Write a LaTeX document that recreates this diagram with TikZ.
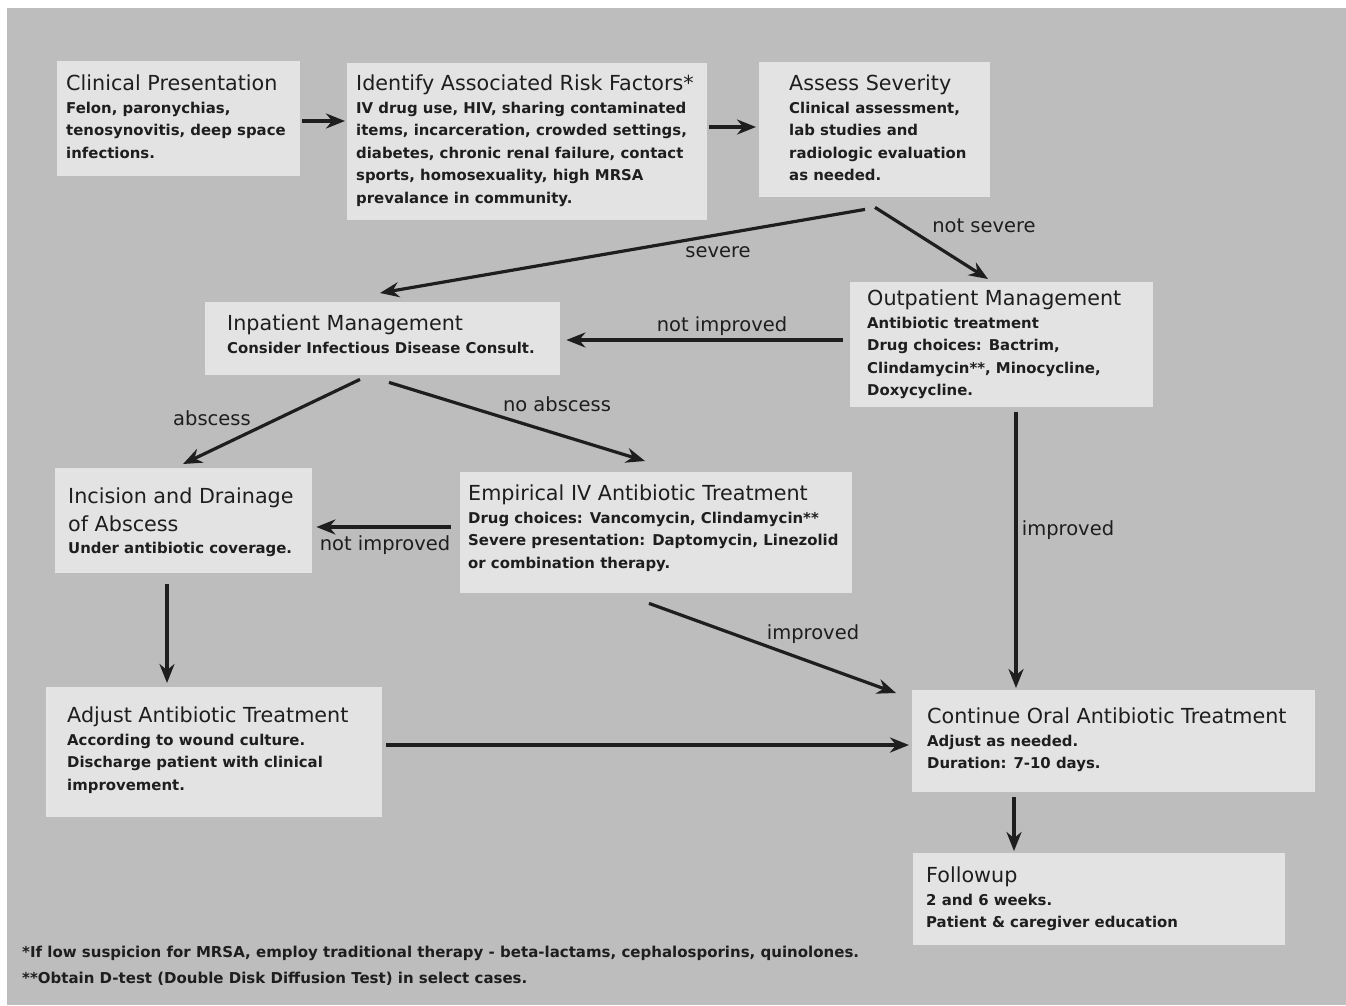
\documentclass[tikz,border=0pt]{standalone}
\usepackage{fontspec}
\setmainfont{DejaVu Sans}
\usetikzlibrary{calc,arrows.meta}
\definecolor{bggray}{HTML}{BDBDBD}
\definecolor{boxgray}{HTML}{E3E3E3}
\definecolor{ink}{HTML}{1E1E1E}
\newcommand\ttl[1]{{\fontsize{20.7}{22.5}\selectfont\mdseries #1}}
\begin{document}
\begin{tikzpicture}[x=1pt,y=-1pt,
  box/.style={fill=boxgray, draw=none, anchor=north west, inner sep=0pt},
  txt/.style={anchor=north west, inner sep=0pt, align=left, text=ink, font=\fontsize{14.9}{22.5}\selectfont\bfseries},
  lbl/.style={text=ink, font=\fontsize{19.5}{22}\selectfont, inner sep=0pt},
  arr/.style={draw=ink, line width=3.2pt, -{Stealth[length=19pt,width=15pt]}},
  note/.style={anchor=west, inner sep=0pt, text=ink, font=\fontsize{15}{16}\selectfont\bfseries}]
\useasboundingbox (0,0) rectangle (1346,1005);
\fill[white] (0,0) rectangle (1346,1005);
\fill[bggray] (7,8) rectangle (1346,1005);

% boxes
\node[box, minimum width=243pt, minimum height=115pt] (cp)   at (57,61)  {};
\node[box, minimum width=360pt, minimum height=157pt] (risk) at (347,63) {};
\node[box, minimum width=231pt, minimum height=135pt] (sev)  at (759,62) {};
\node[box, minimum width=355pt, minimum height=73pt]  (inp)  at (205,302) {};
\node[box, minimum width=303pt, minimum height=125pt] (outp) at (850,282) {};
\node[box, minimum width=257pt, minimum height=105pt] (inc)  at (55,468) {};
\node[box, minimum width=392pt, minimum height=121pt] (emp)  at (460,472) {};
\node[box, minimum width=336pt, minimum height=130pt] (adj)  at (46,687) {};
\node[box, minimum width=403pt, minimum height=102pt] (cont) at (912,690) {};
\node[box, minimum width=372pt, minimum height=92pt]  (fol)  at (913,853) {};

% texts
\node[txt] (cpt) at (66,75) {\ttl{Clinical Presentation}\\Felon, paronychias,\\tenosynovitis, deep space\\infections.};
\node[txt] (riskt) at (356,75) {\ttl{Identify Associated Risk Factors*}\\IV drug use, HIV, sharing contaminated\\items, incarceration, crowded settings,\\diabetes, chronic renal failure, contact\\sports, homosexuality, high MRSA\\prevalance in community.};
\node[txt] (sevt) at (789,75) {\ttl{Assess Severity}\\Clinical assessment,\\lab studies and\\radiologic evaluation\\as needed.};
\node[txt] (inpt) at (227,315) {\ttl{Inpatient Management}\\Consider Infectious Disease Consult.};
\node[txt] (outpt) at (867,290) {\ttl{Outpatient Management}\\Antibiotic treatment\\Drug choices: Bactrim,\\Clindamycin**, Minocycline,\\Doxycycline.};
\node[txt] (inct) at (68,488) {\ttl{Incision and Drainage}\\[5pt]\ttl{of Abscess}\\Under antibiotic coverage.};
\node[txt] (empt) at (468,485) {\ttl{Empirical IV Antibiotic Treatment}\\Drug choices: Vancomycin, Clindamycin**\\Severe presentation: Daptomycin, Linezolid\\or combination therapy.};
\node[txt] (adjt) at (67,707) {\ttl{Adjust Antibiotic Treatment}\\According to wound culture.\\Discharge patient with clinical\\improvement.};
\node[txt] (contt) at (927,708) {\ttl{Continue Oral Antibiotic Treatment}\\Adjust as needed.\\Duration: 7-10 days.};
\node[txt] (folt) at (926,867) {\ttl{Followup}\\2 and 6 weeks.\\Patient \& caregiver education};

% connectors
\draw[arr, shorten <=2pt, shorten >=2pt] (cp.east |- 0,121) -- (risk.west |- 0,121);
\draw[arr, shorten <=2pt, shorten >=3pt] (risk.east |- 0,127) -- (sev.west |- 0,127);
\draw[arr] ($(sev.south west)+(106,12)$) -- ($(inp.north west)+(175,-9)$);
\draw[arr] ($(sev.south west)+(116,10)$) -- ($(outp.north west)+(138,-3)$);
\draw[arr, shorten <=7pt, shorten >=6pt] (outp.west |- 0,340) -- (inp.east |- 0,340);
\draw[arr] ($(inp.south west)+(155,4)$) -- ($(inc.north west)+(128,-4)$);
\draw[arr] ($(inp.south west)+(184,7)$) -- ($(emp.north west)+(185,-11)$);
\draw[arr, shorten <=9pt, shorten >=4pt] (emp.west |- 0,527) -- (inc.east |- 0,527);
\draw[arr] ($(inc.south west)+(112,11)$) -- ($(adj.north west)+(121,-4)$);
\draw[arr] ($(emp.south west)+(189,10)$) -- ($(cont.north west)+(-16,3)$);
\draw[arr] ($(outp.south west)+(166,5)$) -- ($(cont.north west)+(104,-2)$);
\draw[arr, shorten <=4pt, shorten >=3pt] (adj.east |- 0,745) -- (cont.west |- 0,745);
\draw[arr] ($(cont.south west)+(102,5)$) -- ($(fol.north west)+(101,-2)$);

% labels
\node[lbl] (l1) at (718,252) {severe};
\node[lbl] (l2) at (984,226) {not severe};
\node[lbl] (l3) at (722,326) {not improved};
\node[lbl] (l4) at (212,418) {abscess};
\node[lbl] (l5) at (557,404) {no abscess};
\node[lbl] (l6) at (385,545) {not improved};
\node[lbl] (l7) at (813,634) {improved};
\node[lbl] (l8) at (1068,530) {improved};

% footnotes
\node[note] (n1) at (22,953) {*If low suspicion for MRSA, employ traditional therapy - beta-lactams, cephalosporins, quinolones.};
\node[note] (n2) at (22,979) {**Obtain D-test (Double Disk Diffusion Test) in select cases.};
\end{tikzpicture}
\end{document}
